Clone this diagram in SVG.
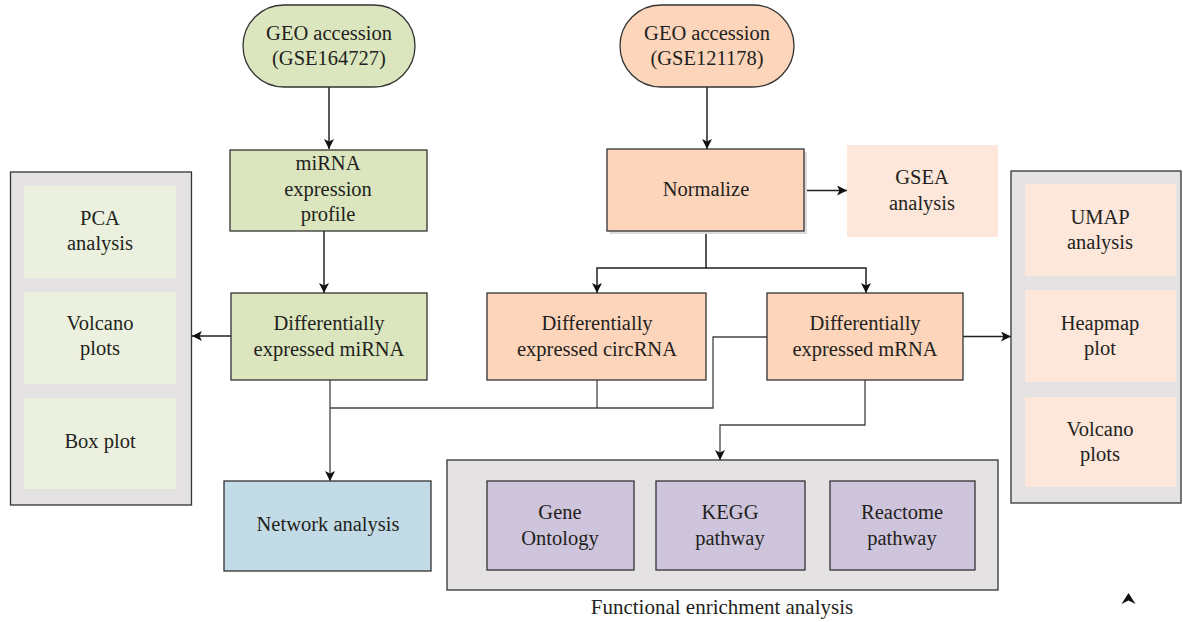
<svg xmlns="http://www.w3.org/2000/svg" width="1183" height="622" viewBox="0 0 1183 622">
<style>
text{font-family:"Liberation Serif","Times New Roman",serif;font-size:20.5px;fill:#231f20;text-anchor:middle}
.g{fill:#dbe6bf;stroke:#333;stroke-width:1.3}
.o{fill:#fdd5bb;stroke:#333;stroke-width:1.3}
.panel{fill:#e4e2e3;stroke:#333;stroke-width:1.3}
.lg{fill:#ebf1de}
.lp{fill:#fde6da}
.pu{fill:#cec4dc;stroke:#333;stroke-width:1.3}
.bl{fill:#c2dbe6;stroke:#333;stroke-width:1.3}
.c{fill:none;stroke:#222;stroke-width:1.5}
.cl{fill:none;stroke:#444;stroke-width:1.3}
</style>
<defs>
<marker id="ah" viewBox="0 0 10 10" refX="10" refY="5" markerWidth="10" markerHeight="10" markerUnits="userSpaceOnUse" orient="auto">
<path d="M0,0 L10,5 L0,10 L2.5,5 Z" fill="#111"/>
</marker>
</defs>
<rect width="1183" height="622" fill="#fff"/>

<g id="connectors">
<path class="c" d="M329,87 V149" marker-end="url(#ah)"/>
<path class="c" d="M324,231 V293" marker-end="url(#ah)"/>
<path class="c" d="M707,87 V149" marker-end="url(#ah)"/>
<path class="c" d="M804,190.5 H847" marker-end="url(#ah)"/>
<path class="c" d="M706,231 V268 H597 V293" marker-end="url(#ah)"/>
<path class="c" d="M706,268 H866 V293" marker-end="url(#ah)"/>
<path class="c" d="M231,336 H192" marker-end="url(#ah)"/>
<path class="c" d="M963,336.5 H1011" marker-end="url(#ah)"/>
<path class="cl" d="M330,380 V481" marker-end="url(#ah)"/>
<path class="cl" d="M330,408 H713 V337 H767"/>
<path class="cl" d="M597,380 V408"/>
<path class="cl" d="M865,380 V425 H720 V460" marker-end="url(#ah)"/>
</g>

<g id="geo1">
<rect class="g" x="243" y="5" width="172" height="82" rx="41"/>
<text x="329" y="40">GEO accession</text>
<text x="329" y="65">(GSE164727)</text>
</g>
<g id="geo2">
<rect class="o" x="620" y="5" width="174" height="82" rx="41"/>
<text x="707" y="40">GEO accession</text>
<text x="707" y="65">(GSE121178)</text>
</g>
<g id="mirna-profile">
<rect class="g" x="230" y="150" width="197" height="81"/>
<text x="328" y="170">miRNA</text>
<text x="328" y="196">expression</text>
<text x="328" y="221">profile</text>
</g>
<g id="normalize">
<rect x="610" y="152" width="197" height="82" fill="#dcdcdc"/>
<rect class="o" x="607" y="149" width="197" height="82"/>
<text x="706" y="196">Normalize</text>
</g>
<g id="gsea">
<rect class="lp" x="847" y="145" width="151" height="92"/>
<text x="922" y="184">GSEA</text>
<text x="922" y="210">analysis</text>
</g>
<g id="diff-mirna">
<rect class="g" x="231" y="293" width="196" height="87"/>
<text x="329" y="330">Differentially</text>
<text x="329" y="356">expressed miRNA</text>
</g>
<g id="diff-circrna">
<rect class="o" x="487" y="293" width="219" height="87"/>
<text x="597" y="330">Differentially</text>
<text x="597" y="356">expressed circRNA</text>
</g>
<g id="diff-mrna">
<rect class="o" x="767" y="293" width="196" height="87"/>
<text x="865" y="330">Differentially</text>
<text x="865" y="356">expressed mRNA</text>
</g>
<g id="left-panel">
<rect class="panel" x="10.5" y="172" width="181" height="333"/>
<rect class="lg" x="24" y="186" width="152" height="92"/>
<rect class="lg" x="24" y="292" width="152" height="92"/>
<rect class="lg" x="24" y="398" width="152" height="91"/>
<text x="100" y="225">PCA</text>
<text x="100" y="250">analysis</text>
<text x="100" y="330">Volcano</text>
<text x="100" y="355">plots</text>
<text x="100" y="448">Box plot</text>
</g>
<g id="right-panel">
<rect class="panel" x="1011" y="171" width="170" height="332"/>
<rect class="lp" x="1025" y="184" width="151" height="92"/>
<rect class="lp" x="1025" y="290" width="151" height="92"/>
<rect class="lp" x="1025" y="397" width="151" height="90"/>
<text x="1100" y="224">UMAP</text>
<text x="1100" y="249">analysis</text>
<text x="1100" y="330">Heapmap</text>
<text x="1100" y="355">plot</text>
<text x="1100" y="436">Volcano</text>
<text x="1100" y="461">plots</text>
</g>
<g id="network">
<rect class="bl" x="224" y="481" width="207" height="90"/>
<text x="328" y="531">Network analysis</text>
</g>
<g id="functional">
<rect class="panel" x="447" y="460" width="551" height="130"/>
<rect class="pu" x="487" y="481" width="147" height="89"/>
<rect class="pu" x="656" y="481" width="149" height="89"/>
<rect class="pu" x="830" y="481" width="145" height="89"/>
<text x="560" y="519">Gene</text>
<text x="560" y="545">Ontology</text>
<text x="730" y="519">KEGG</text>
<text x="730" y="545">pathway</text>
<text x="902" y="519">Reactome</text>
<text x="902" y="545">pathway</text>
<text x="722" y="614" style="font-size:21px">Functional enrichment analysis</text>
</g>
<g id="mark">
<path d="M1128.5,593 L1135.5,604 L1128.5,600.5 L1121.5,604 Z" fill="#111"/>
</g>
</svg>
